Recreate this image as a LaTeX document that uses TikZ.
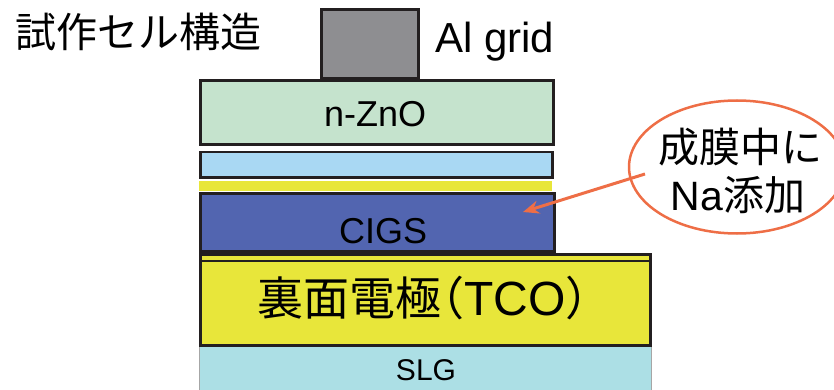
\documentclass[tikz,border=0pt]{standalone}
\usepackage{fontspec}
\setmainfont{Liberation Sans}
\newfontfamily\cjk{Noto Sans CJK JP}
\newfontfamily\cjkh[RawFeature=+halt]{Noto Sans CJK JP}
\usetikzlibrary{arrows.meta,shapes.geometric}
\definecolor{linec}{HTML}{231F20}
\definecolor{algrey}{HTML}{8E8E91}
\definecolor{znoc}{HTML}{C5E3CD}
\definecolor{bufc}{HTML}{A9D8F3}
\definecolor{yelc}{HTML}{E8E63A}
\definecolor{cigsc}{HTML}{5265B0}
\definecolor{slgc}{HTML}{ACDFE5}
\definecolor{orangec}{HTML}{EE6E46}
\begin{document}
\begin{tikzpicture}[x=1pt,y=-1pt,
  layer/.style={draw=linec,line width=3pt},
  lbl/.style={inner sep=0pt,anchor=base},
  callout/.style={draw=orangec,line width=2.5pt,ellipse,inner sep=0pt}]
\useasboundingbox (0,0) rectangle (834,390);
\clip (0,0) rectangle (834,390);
% SLG
\draw[draw=gray!70,line width=1pt,fill=slgc] (199.5,346) rectangle (651.5,396);
\node[lbl,font=\fontsize{30}{30}\selectfont] (tslg) at (426,380) {SLG};
% TCO
\draw[layer,fill=yelc] (200.5,254.5) rectangle (650.5,345);
\draw[linec,line width=2pt] (200.5,260.5) -- (650.5,260.5);
\node[lbl] (ttco) at (423,315) {\fontsize{46}{46}\selectfont{\cjk 裏面電極}{\cjkh （}\fontsize{48}{48}\selectfont TCO\fontsize{46}{46}\selectfont{\cjkh ）}};
% CIGS
\draw[layer,fill=cigsc] (200.5,193.5) rectangle (554.5,251.5);
\node[lbl,font=\fontsize{36}{36}\selectfont,anchor=base west] (tcigs) at (339,243) {CIGS};
% yellow strip
\fill[yelc] (199,181) rectangle (552,191);
% buffer
\draw[draw=linec,line width=2.5pt,fill=bufc] (200.5,152) rectangle (552.5,177.5);
% ZnO
\draw[layer,fill=znoc] (200.5,80.5) rectangle (553,145);
\node[lbl,font=\fontsize{36}{36}\selectfont,anchor=base west] (tzno) at (324,127) {n-ZnO};
% Al grid
\draw[layer,fill=algrey] (321.5,9.5) rectangle (418.5,79);
\node[lbl,font=\fontsize{42}{42}\selectfont,anchor=base west] (tal) at (435,53) {Al grid};
% title
\node[inner sep=0pt,font=\cjk\fontsize{41}{41}\selectfont,anchor=west] (title) at (15,32) {試作セル構造};
% callout
\node[callout,minimum width=216pt,minimum height=133pt] (ell) at (737,167) {};
\node[inner sep=0pt,font=\cjk\fontsize{41}{41}\selectfont] (c1) at (740,147) {成膜中に};
\node[lbl,font=\fontsize{41}{41}\selectfont] (c2) at (738,210) {Na{\cjk 添加}};
\coordinate (as) at (645,174);
\coordinate (at) at (523,212);
\draw[orangec,line width=3pt,-{Stealth[length=16pt,width=13pt]}] (as) -- (at);
\end{tikzpicture}
\end{document}
